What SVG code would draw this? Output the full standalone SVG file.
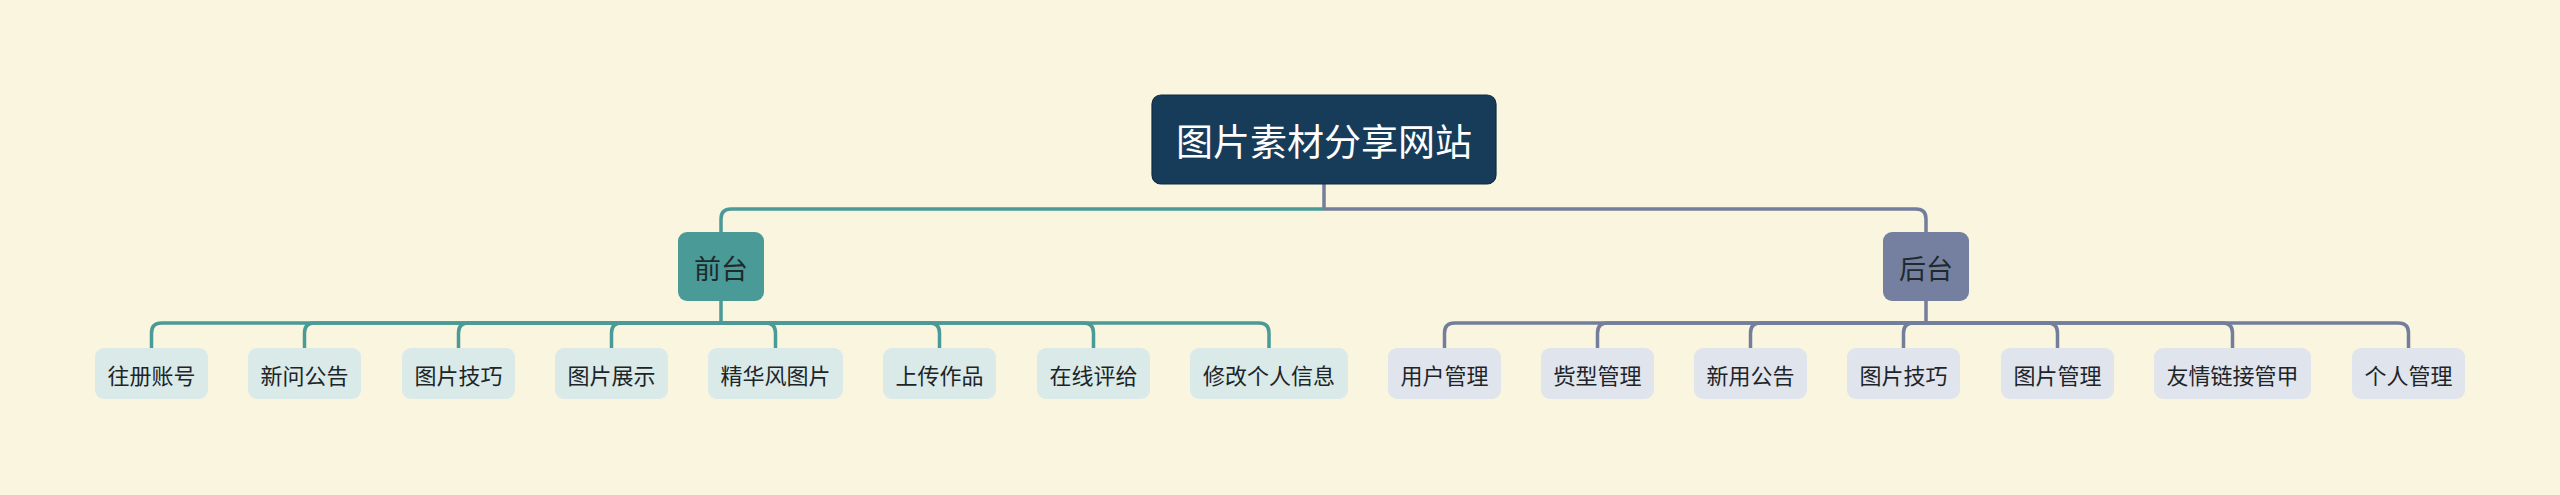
<svg xmlns="http://www.w3.org/2000/svg" width="2560" height="495" viewBox="0 0 2560 495">
<style>
text{font-family:"Noto Sans CJK SC","Noto Sans",sans-serif;text-anchor:middle;dominant-baseline:central}
.root rect{fill:#173C5A;stroke:#0E2A42;stroke-width:1.2}
.root text{fill:#FFFFFF;font-size:37px}
.sub text{fill:#1E2A2C;font-size:27px}
.front rect{fill:#4A9A98}
.back rect{fill:#7580A0}
.leaf text{fill:#1E2428;font-size:22px}
.lf rect{fill:#D9EAE9}
.lb rect{fill:#E0E4EC}
.ct{fill:none;stroke:#4A9A97;stroke-width:3.5}
.cb{fill:none;stroke:#737D9C;stroke-width:3.5}
</style>
<rect width="2560" height="495" fill="#FAF5DF"/>
<g id="connectors">
<path class="cb" d="M1324,184V209"/>
<path class="ct" d="M1324,209H731Q721,209 721,219V232"/>
<path class="cb" d="M1324,209H1916Q1926,209 1926,219V232"/>
<path class="ct" d="M721,301V323"/>
<path class="ct" d="M721,323H161.5Q151.5,323 151.5,333V348"/>
<path class="ct" d="M721,323H314.5Q304.5,323 304.5,333V348"/>
<path class="ct" d="M721,323H468.5Q458.5,323 458.5,333V348"/>
<path class="ct" d="M721,323H621.5Q611.5,323 611.5,333V348"/>
<path class="ct" d="M721,323H765.5Q775.5,323 775.5,333V348"/>
<path class="ct" d="M721,323H929.5Q939.5,323 939.5,333V348"/>
<path class="ct" d="M721,323H1083.5Q1093.5,323 1093.5,333V348"/>
<path class="ct" d="M721,323H1259Q1269,323 1269,333V348"/>
<path class="cb" d="M1926,301V323"/>
<path class="cb" d="M1926,323H1454.5Q1444.5,323 1444.5,333V348"/>
<path class="cb" d="M1926,323H1607.5Q1597.5,323 1597.5,333V348"/>
<path class="cb" d="M1926,323H1760.5Q1750.5,323 1750.5,333V348"/>
<path class="cb" d="M1926,323H1913.5Q1903.5,323 1903.5,333V348"/>
<path class="cb" d="M1926,323H2047.5Q2057.5,323 2057.5,333V348"/>
<path class="cb" d="M1926,323H2222.5Q2232.5,323 2232.5,333V348"/>
<path class="cb" d="M1926,323H2398.5Q2408.5,323 2408.5,333V348"/>
</g>
<g id="root" class="root"><rect x="1152" y="95" width="344" height="89" rx="9"/><text x="1324" y="140">图片素材分享网站</text></g>
<g id="front" class="sub front"><rect x="678" y="232" width="86" height="69" rx="9"/><text x="721" y="267">前台</text></g>
<g id="back" class="sub back"><rect x="1883" y="232" width="86" height="69" rx="9"/><text x="1926" y="267">后台</text></g>
<g id="f1" class="leaf lf"><rect x="95" y="348" width="113" height="51" rx="9"/><text x="151.5" y="374">往册账号</text></g>
<g id="f2" class="leaf lf"><rect x="248" y="348" width="113" height="51" rx="9"/><text x="304.5" y="374">新问公告</text></g>
<g id="f3" class="leaf lf"><rect x="402" y="348" width="113" height="51" rx="9"/><text x="458.5" y="374">图片技巧</text></g>
<g id="f4" class="leaf lf"><rect x="555" y="348" width="113" height="51" rx="9"/><text x="611.5" y="374">图片展示</text></g>
<g id="f5" class="leaf lf"><rect x="708" y="348" width="135" height="51" rx="9"/><text x="775.5" y="374">精华风图片</text></g>
<g id="f6" class="leaf lf"><rect x="883" y="348" width="113" height="51" rx="9"/><text x="939.5" y="374">上传作品</text></g>
<g id="f7" class="leaf lf"><rect x="1037" y="348" width="113" height="51" rx="9"/><text x="1093.5" y="374">在线评给</text></g>
<g id="f8" class="leaf lf"><rect x="1190" y="348" width="158" height="51" rx="9"/><text x="1269" y="374">修改个人信息</text></g>
<g id="b1" class="leaf lb"><rect x="1388" y="348" width="113" height="51" rx="9"/><text x="1444.5" y="374">用户管理</text></g>
<g id="b2" class="leaf lb"><rect x="1541" y="348" width="113" height="51" rx="9"/><text x="1597.5" y="374">赀型管理</text></g>
<g id="b3" class="leaf lb"><rect x="1694" y="348" width="113" height="51" rx="9"/><text x="1750.5" y="374">新用公告</text></g>
<g id="b4" class="leaf lb"><rect x="1847" y="348" width="113" height="51" rx="9"/><text x="1903.5" y="374">图片技巧</text></g>
<g id="b5" class="leaf lb"><rect x="2001" y="348" width="113" height="51" rx="9"/><text x="2057.5" y="374">图片管理</text></g>
<g id="b6" class="leaf lb"><rect x="2154" y="348" width="157" height="51" rx="9"/><text x="2232.5" y="374">友情链接管甲</text></g>
<g id="b7" class="leaf lb"><rect x="2352" y="348" width="113" height="51" rx="9"/><text x="2408.5" y="374">个人管理</text></g>
</svg>
